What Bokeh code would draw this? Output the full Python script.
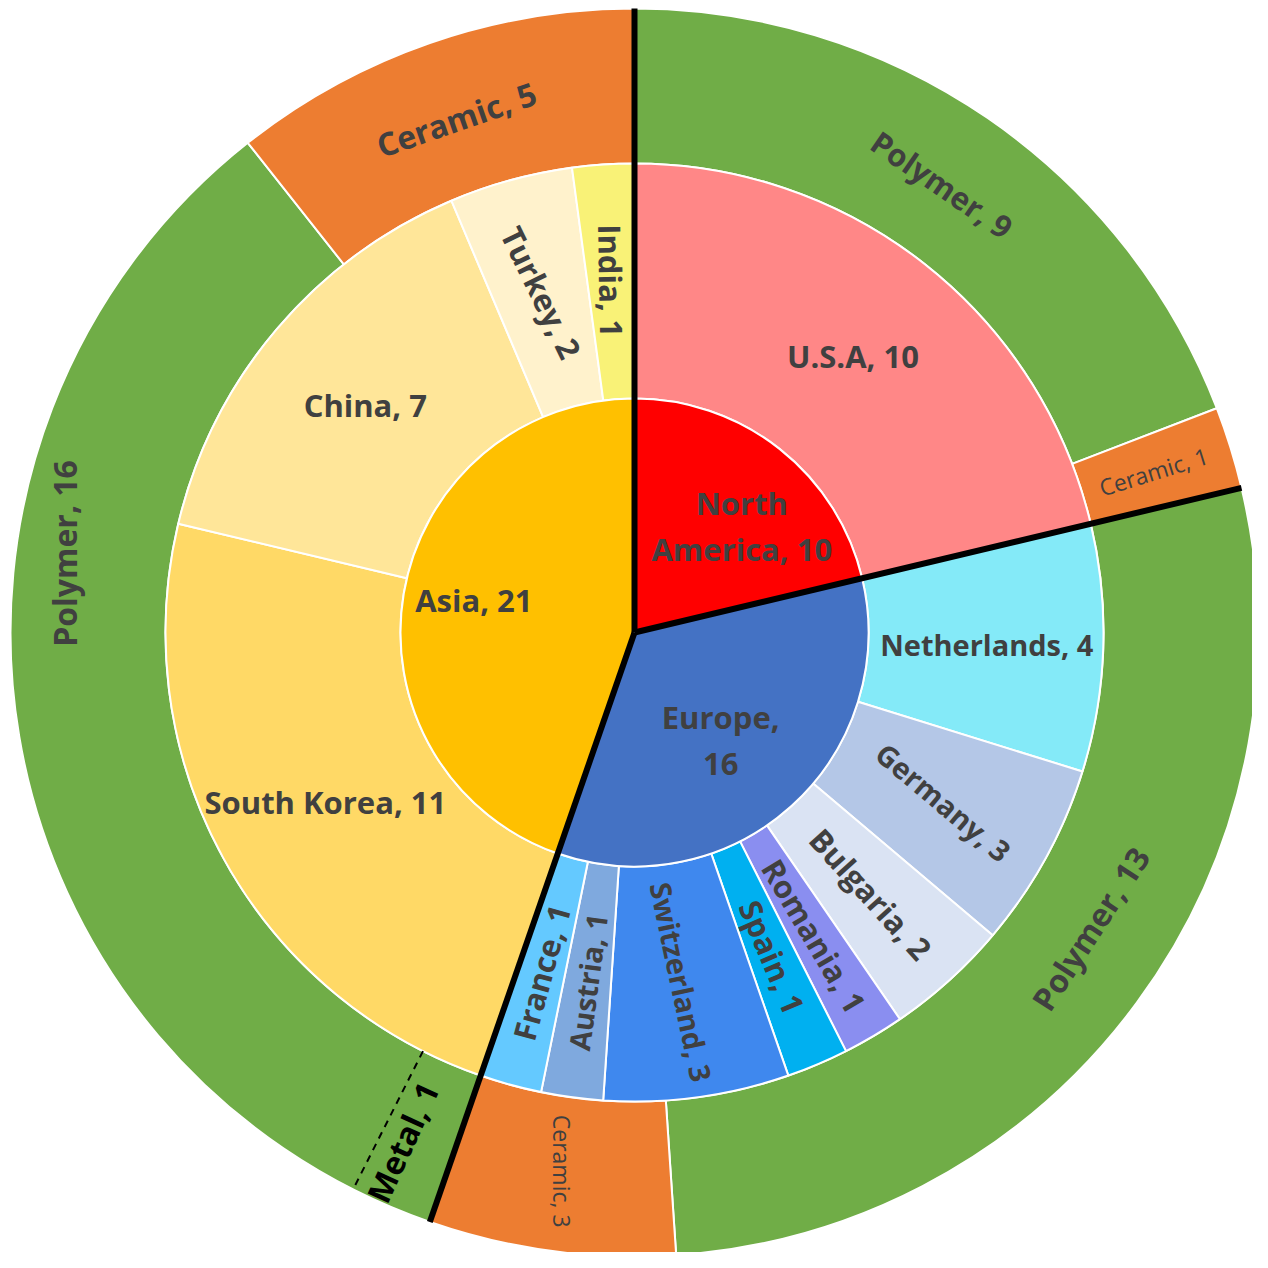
import math
from bokeh.plotting import figure
from bokeh.models import Range1d, ColumnDataSource
from bokeh.core.properties import value
from bokeh.embed import file_html
from bokeh.resources import INLINE

# ---------------- data ----------------
regions = ["North America", "Europe", "Asia"]
region_values = [10, 16, 21]

countries = ["U.S.A", "Netherlands", "Germany", "Bulgaria", "Romania", "Spain",
             "Switzerland", "Austria", "France", "South Korea", "China", "Turkey", "India"]
country_values = [10, 4, 3, 2, 1, 1, 3, 1, 1, 11, 7, 2, 1]

materials = ["Polymer", "Ceramic", "Polymer", "Ceramic", "Polymer", "Ceramic"]
material_values = [9, 1, 13, 3, 16, 5]

metal_name = "Metal"
metal_value = 1  # shown inside Asia's polymer band, set off by a dashed line

# ---------------- styles ----------------
region_colors = ["#FF0000", "#4472C4", "#FFC000"]
country_colors = ["#FF8787", "#84EAF8", "#B4C7E7", "#DAE3F3", "#8A8EF0", "#00B0F0",
                  "#3F88EE", "#7FA9DE", "#64C9FF", "#FFD966", "#FFE699", "#FFF2CC", "#F9F277"]
material_colors = {"Polymer": "#70AD47", "Ceramic": "#ED7D31"}
TXT = "#404040"

R1, R2, R3 = 234, 469, 624
total = sum(region_values)


def cum_angles(vals):
    out, acc = [], 0.0
    for v in vals:
        a0 = acc / total * 2 * math.pi
        acc += v
        a1 = acc / total * 2 * math.pi
        out.append((a0, a1))
    return out


reg_ang = cum_angles(region_values)
cty_ang = cum_angles(country_values)
mat_ang = cum_angles(material_values)


def bokeh_angles(pairs):
    # theta measured clockwise from 12 o'clock -> bokeh ccw from +x
    starts = [math.pi / 2 - b for a, b in pairs]
    ends = [math.pi / 2 - a for a, b in pairs]
    return starts, ends


p = figure(width=1252, height=1252, x_range=Range1d(-634, 618), y_range=Range1d(-620, 632),
           output_backend="svg", toolbar_location=None, min_border=0)
p.axis.visible = False
p.grid.visible = False
p.outline_line_color = None
p.background_fill_color = "white"

# outer ring
s, e = bokeh_angles(mat_ang)
p.annular_wedge(x=0, y=0, inner_radius=R2, outer_radius=R3, start_angle=s, end_angle=e,
                fill_color=[material_colors[m] for m in materials],
                line_color="white", line_width=2)
# middle ring
s, e = bokeh_angles(cty_ang)
p.annular_wedge(x=0, y=0, inner_radius=R1, outer_radius=R2, start_angle=s, end_angle=e,
                fill_color=country_colors, line_color="white", line_width=2)
# inner pie
s, e = bokeh_angles(reg_ang)
p.wedge(x=0, y=0, radius=R1, start_angle=s, end_angle=e,
        fill_color=region_colors, line_color="white", line_width=2)

# thick black separators between the regions
bx, by = [], []
for a0, a1 in reg_ang:
    bx.append(R3 * math.sin(a0))
    by.append(R3 * math.cos(a0))
p.segment(x0=0, y0=0, x1=bx, y1=by, line_color="black", line_width=6)

# dashed line marking the metal part in Asia's polymer band
asia_start = reg_ang[2][0]
metal_end = asia_start + metal_value / total * 2 * math.pi
p.segment(x0=R2 * math.sin(metal_end), y0=R2 * math.cos(metal_end),
          x1=R3 * math.sin(metal_end), y1=R3 * math.cos(metal_end),
          line_color="black", line_width=2, line_dash="7 6")

# ---------------- labels ----------------
lab = dict(x=[], y=[], text=[], angle=[], size=[], style=[], color=[])


def norm(a):
    return ((a + 90) % 180) - 90


def place(text, t, r, mode, size, style="bold", color=TXT, rot=None):
    lab["x"].append(r * math.sin(t))
    lab["y"].append(r * math.cos(t))
    d = math.degrees(t)
    if rot is not None:
        ang = rot
    elif mode == "h":
        ang = 0
    elif mode == "r":
        ang = norm(90 - d)
    else:
        ang = norm(-d)
    lab["text"].append(text)
    lab["angle"].append(math.radians(ang))
    lab["size"].append(f"{size}px")
    lab["style"].append(style)
    lab["color"].append(color)


line_breaks = {"North America": ("North ", "North\n"), "Europe": (", ", ",\n")}
region_label_shift = {"North America": 7, "Europe": 3.5, "Asia": 2}  # degrees
region_label_r = {"North America": 151, "Europe": 138, "Asia": 164}
for name, v, (a0, a1) in zip(regions, region_values, reg_ang):
    txt = f"{name}, {v}"
    if name in line_breaks:
        txt = txt.replace(*line_breaks[name])
    t = (a0 + a1) / 2 + math.radians(region_label_shift.get(name, 0))
    place(txt, t, region_label_r[name], "h", 31)

country_mode = {"U.S.A": "h", "Netherlands": "h", "South Korea": "h", "China": "h"}
country_size = {"Netherlands": 29, "Germany": 29, "Switzerland": 29, "Austria": 29}
country_rot = {"Germany": -40, "Turkey": -64, "India": -89, "Switzerland": -78}
for name, v, (a0, a1) in zip(countries, country_values, cty_ang):
    place(f"{name}, {v}", (a0 + a1) / 2, (R1 + R2) / 2 + 1, country_mode.get(name, "r"),
          country_size.get(name, 31), rot=country_rot.get(name))

mat_mode = ["t", "r", "t", "r", "t", "t"]
mat_size = [31, 23, 32, 23, 32, 32]
mat_style = ["bold", "normal", "bold", "normal", "bold", "bold"]
mat_theta = {2: 123.0, 4: 277.9}   # manually moved labels (degrees)
mat_r = {4: 575}
mat_rot = {3: -90, 4: 90}
for i, (name, v, (a0, a1)) in enumerate(zip(materials, material_values, mat_ang)):
    t = math.radians(mat_theta[i]) if i in mat_theta else (a0 + a1) / 2
    place(f"{name}, {v}", t, mat_r.get(i, (R2 + R3) / 2 - 3), mat_mode[i], mat_size[i],
          style=mat_style[i], rot=mat_rot.get(i))

# metal label
tm = (asia_start + metal_end) / 2 + math.radians(1.5)
place(f"{metal_name}, {metal_value}", tm, 560, "r", 32, color="black")

src = ColumnDataSource(lab)
p.text(x="x", y="y", text="text", angle="angle", source=src,
       text_font=value("Open Sans"), text_font_size="size", text_font_style="style",
       text_color="color", text_align="center", text_baseline="middle",
       text_line_height=1.1)

open("out.html", "w").write(file_html(p, INLINE))
